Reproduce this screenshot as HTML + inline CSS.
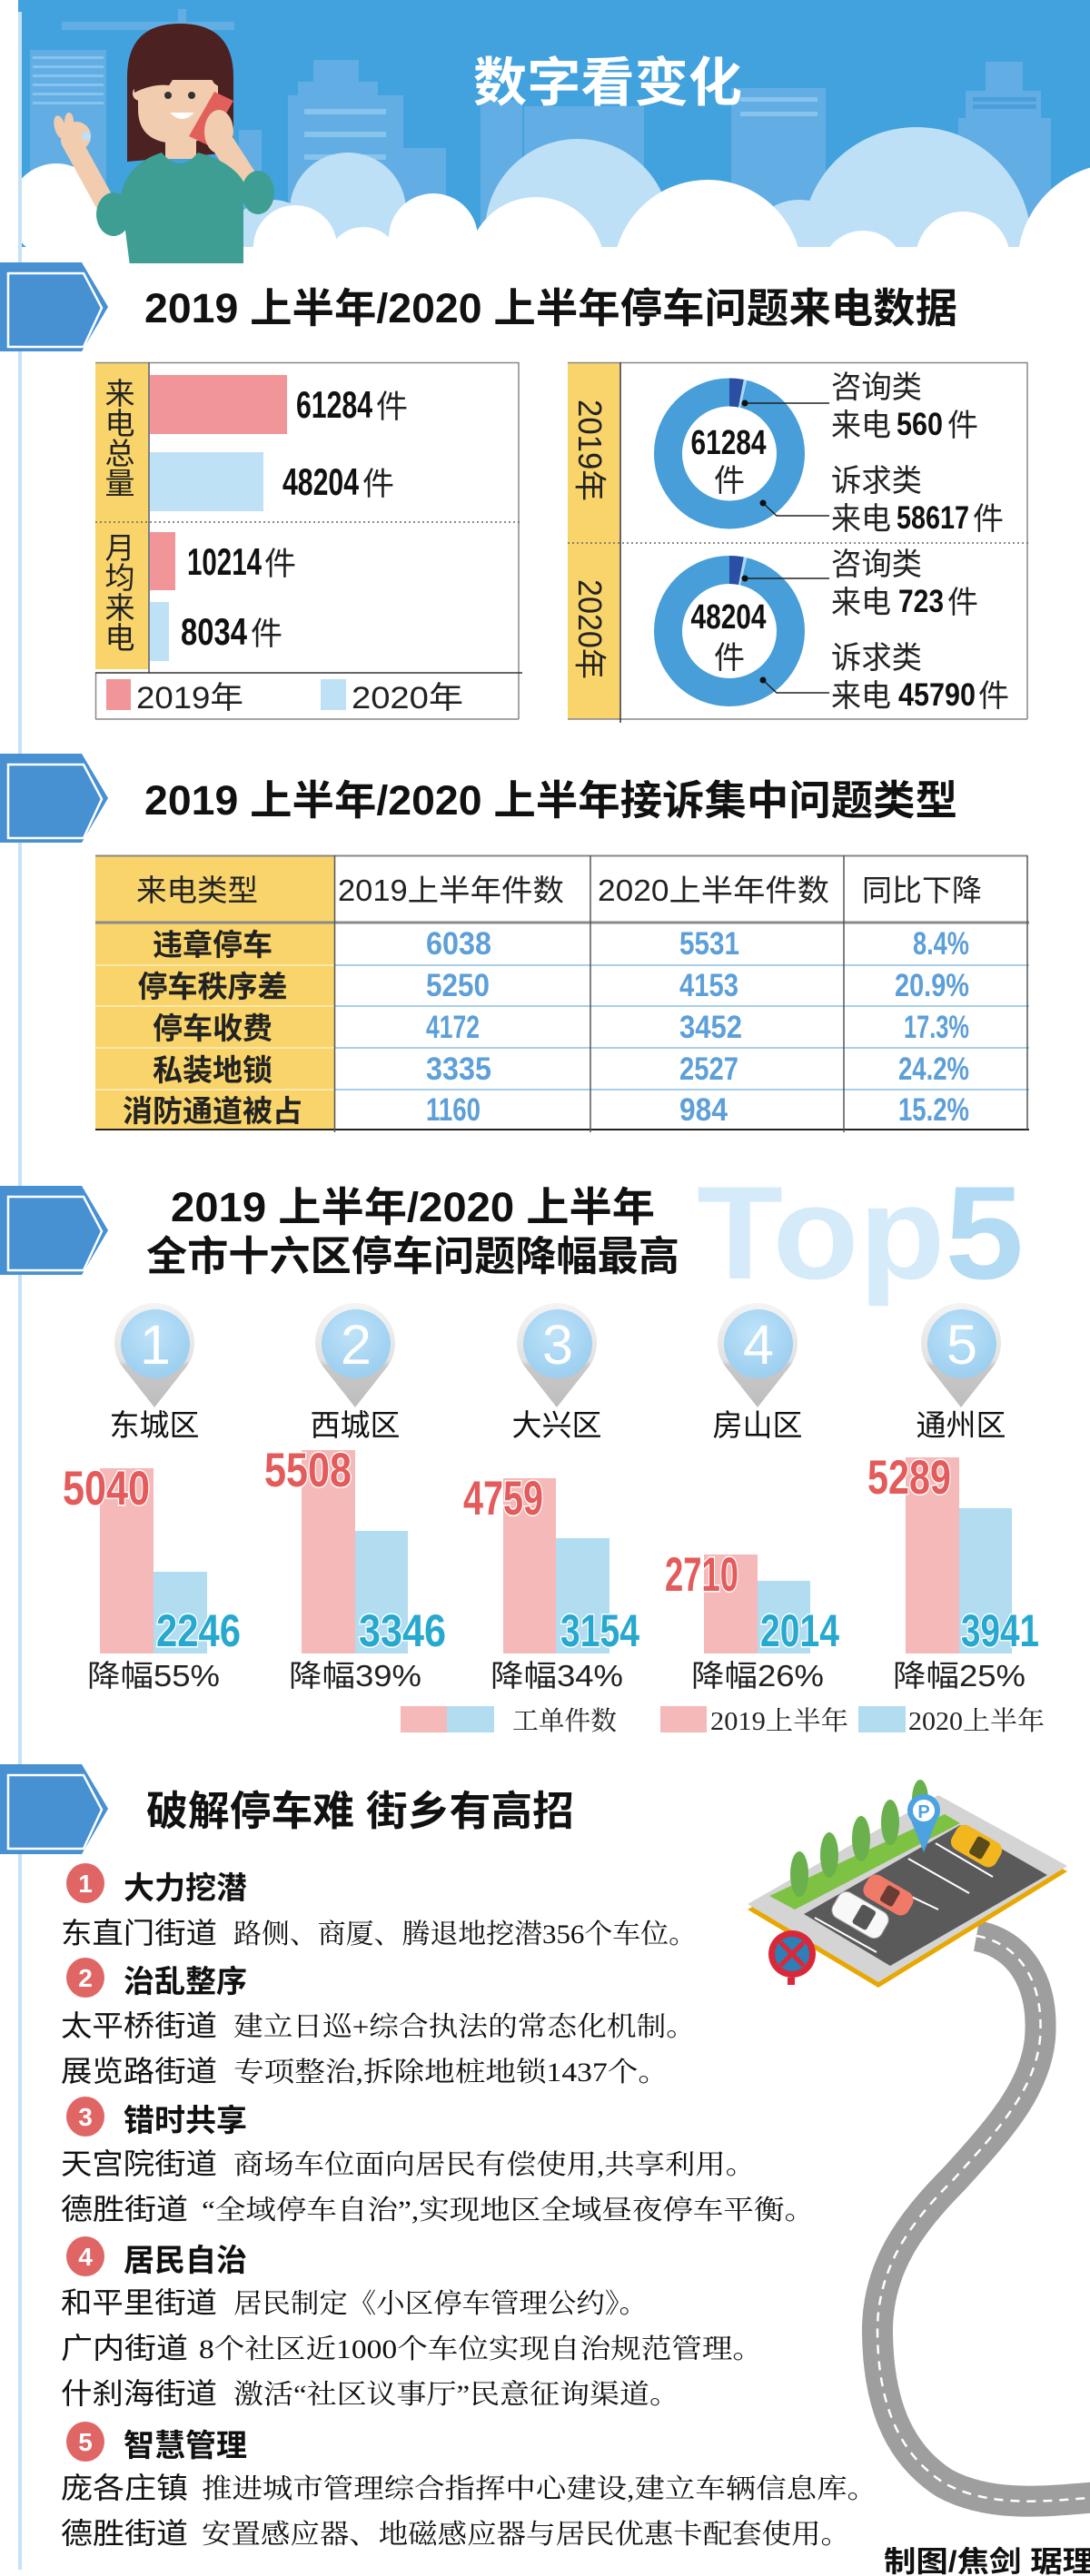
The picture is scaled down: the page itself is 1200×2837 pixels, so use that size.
<!DOCTYPE html>
<html><head><meta charset="utf-8"><title>数字看变化</title>
<style>
html,body{margin:0;padding:0;background:#fff;}
body{width:1200px;height:2837px;overflow:hidden;}
svg{display:block;}
text{font-family:"Liberation Sans","Noto Sans CJK SC",sans-serif;}
.sf{font-family:"Liberation Serif","Noto Serif CJK SC",serif;}
</style></head>
<body>
<svg xmlns="http://www.w3.org/2000/svg" width="1200" height="2837" viewBox="0 0 1200 2837">
<defs>
<linearGradient id="pinG" x1="0" y1="0" x2="0" y2="1"><stop offset="0" stop-color="#f4f4f4"/><stop offset="0.55" stop-color="#e2e2e2"/><stop offset="0.6" stop-color="#c9c9c9"/><stop offset="1" stop-color="#bdbdbd"/></linearGradient>
<radialGradient id="pinB" cx="0.45" cy="0.35" r="0.75"><stop offset="0" stop-color="#bfe3f9"/><stop offset="1" stop-color="#96cbee"/></radialGradient>
<clipPath id="hdr"><rect x="0" y="0" width="1200" height="290"/></clipPath>
</defs>

<!-- HEADER -->
<g clip-path="url(#hdr)">
<rect x="20" y="0" width="1180" height="300" fill="#42a2dd"/>
<g fill="#62aee4">
<rect x="68" y="24" width="190" height="9"/><rect x="196" y="10" width="9" height="30"/>
<rect x="33" y="55" width="84" height="240"/>
<rect x="345" y="66" width="50" height="26"/><rect x="328" y="90" width="88" height="16"/><rect x="317" y="105" width="127" height="190"/>
<rect x="263" y="143" width="25" height="150"/>
<rect x="437" y="163" width="54" height="130"/>
<rect x="529" y="110" width="46" height="180"/>
<rect x="577" y="117" width="132" height="180"/>
<rect x="805" y="97" width="104" height="200"/>
<rect x="952" y="171" width="22" height="120"/>
<rect x="1085" y="68" width="41" height="40"/><rect x="1063" y="100" width="83" height="190"/><rect x="1055" y="130" width="102" height="160"/>
</g>
<g fill="#86c4ec">
<rect x="36" y="62" width="78" height="3"/><rect x="36" y="72" width="78" height="3"/><rect x="36" y="82" width="78" height="3"/><rect x="36" y="92" width="78" height="3"/><rect x="36" y="102" width="78" height="3"/><rect x="36" y="112" width="78" height="3"/>
<rect x="335" y="120" width="90" height="6"/><rect x="335" y="145" width="90" height="6"/><rect x="335" y="170" width="90" height="6"/>
<rect x="815" y="107" width="85" height="5"/><rect x="815" y="123" width="85" height="5"/>
</g>
<g fill="#4a9fda"><rect x="1071" y="107" width="70" height="5"/><rect x="1071" y="115" width="70" height="5"/></g>
<g fill="#bde0f6">
<circle cx="383" cy="232" r="64"/><circle cx="636" cy="255" r="102"/><circle cx="1009" cy="266" r="126"/><circle cx="300" cy="270" r="50"/><circle cx="880" cy="280" r="60"/>
</g>
<g fill="#ffffff">
<circle cx="62" cy="232" r="52"/><circle cx="130" cy="265" r="45"/><circle cx="325" cy="272" r="46"/><circle cx="477" cy="262" r="49"/><circle cx="590" cy="292" r="75"/><circle cx="779" cy="302" r="104"/><circle cx="950" cy="300" r="46"/><circle cx="1060" cy="285" r="52"/><circle cx="1232" cy="292" r="112"/><circle cx="400" cy="290" r="40"/>
<rect x="0" y="272" width="1200" height="30"/>
</g>
<!-- woman -->
<path d="M140,178 L140,85 Q140,26 198,26 Q257,26 257,85 L257,168 Z" fill="#4b2121"/>
<circle cx="154" cy="103" r="8" fill="#f2ccae"/>
<path d="M152,88 L240,88 L240,120 Q240,158 196,158 Q152,158 152,120 Z" fill="#f2ccae"/>
<path d="M148,102 Q146,40 198,40 Q250,40 248,100 L236,92 L230,83 L194,82 L186,94 Q168,92 148,102 Z" fill="#4b2121"/>
<rect x="182" y="150" width="34" height="25" fill="#f2ccae"/>
<circle cx="185" cy="105" r="4" fill="#333"/><circle cx="211" cy="105" r="4" fill="#333"/>
<path d="M187,124 Q200,138 214,124 Z" fill="#fff"/>
<path d="M78,155 L122,235" stroke="#f2ccae" stroke-width="22" stroke-linecap="round"/>
<circle cx="84" cy="150" r="16" fill="#f2ccae"/>
<ellipse cx="66" cy="140" rx="6" ry="13" fill="#f2ccae" transform="rotate(-15 66 140)"/>
<ellipse cx="76" cy="134" rx="5" ry="10" fill="#f2ccae"/>
<circle cx="95" cy="150" r="5" fill="#bde0f6"/>
<path d="M240,150 L285,220" stroke="#f2ccae" stroke-width="26" stroke-linecap="round"/>
<path d="M133,215 Q140,180 178,168 Q198,192 218,168 Q255,178 268,200 L268,293 L143,293 Z" fill="#3f9e93"/>
<ellipse cx="125" cy="236" rx="19" ry="24" fill="#3f9e93"/>
<ellipse cx="284" cy="212" rx="18" ry="24" fill="#3f9e93"/>
<polygon points="236,101 257,111 229,160 208,150" fill="#e2605c"/>
<ellipse cx="241" cy="145" rx="16" ry="24" fill="#f2ccae"/>
</g>
<text x="521" y="111" font-size="58" font-weight="bold" fill="#fff" textLength="296" lengthAdjust="spacingAndGlyphs">数字看变化</text>

<!-- left line -->
<rect x="20" y="13" width="4" height="2817" fill="#c6e3f5"/>

<!-- SECTION ARROWS -->
<g>
<polygon points="0,289 90,289 119,338 90,387 0,387" fill="#4790d2"/>
<polygon points="9,301 92,301 112,339 92,382 9,382" fill="none" stroke="#fff" stroke-width="2.5"/>
<polygon points="0,830 90,830 119,879 90,928 0,928" fill="#4790d2"/>
<polygon points="9,842 92,842 112,880 92,923 9,923" fill="none" stroke="#fff" stroke-width="2.5"/>
<polygon points="0,1306 90,1306 119,1355 90,1404 0,1404" fill="#4790d2"/>
<polygon points="9,1318 92,1318 112,1356 92,1399 9,1399" fill="none" stroke="#fff" stroke-width="2.5"/>
<polygon points="0,1943 90,1943 119,1992 90,2042 0,2042" fill="#4790d2"/>
<polygon points="9,1955 92,1955 112,1993 92,2036 9,2036" fill="none" stroke="#fff" stroke-width="2.5"/>
</g>

<text x="159" y="355" font-size="45" font-weight="bold" fill="#111" textLength="895" lengthAdjust="spacingAndGlyphs">2019 上半年/2020 上半年停车问题来电数据</text>

<!-- LEFT BOX -->
<rect x="105" y="399" width="58" height="338" fill="#f8d46a"/>
<line x1="105" y1="399.5" x2="571" y2="399.5" stroke="#888" stroke-width="1.5"/>
<line x1="571" y1="399" x2="571" y2="792" stroke="#888" stroke-width="1.5"/>
<line x1="105" y1="792" x2="571" y2="792" stroke="#888" stroke-width="1.5"/>
<line x1="105.5" y1="741" x2="105.5" y2="792" stroke="#888" stroke-width="1.5"/>
<line x1="164" y1="399" x2="164" y2="741" stroke="#555" stroke-width="1.5"/>
<line x1="105" y1="741" x2="575" y2="741" stroke="#333" stroke-width="1.5"/>
<line x1="105" y1="575" x2="575" y2="575" stroke="#666" stroke-width="1.5" stroke-dasharray="2 3"/>
<g font-size="33" fill="#222" text-anchor="middle">
<text x="132" y="445">来</text><text x="132" y="478">电</text><text x="132" y="511">总</text><text x="132" y="544">量</text>
<text x="132" y="615">月</text><text x="132" y="648">均</text><text x="132" y="681">来</text><text x="132" y="714">电</text>
</g>
<rect x="165" y="413" width="151" height="65" fill="#f19599"/>
<rect x="165" y="498" width="125" height="65" fill="#bfe1f6"/>
<rect x="165" y="586" width="28" height="64" fill="#f19599"/>
<rect x="165" y="663" width="21" height="65" fill="#bfe1f6"/>
<g font-weight="bold" font-size="42" fill="#111">
<text x="326" y="460" textLength="84" lengthAdjust="spacingAndGlyphs">61284</text>
<text x="311" y="545" textLength="84" lengthAdjust="spacingAndGlyphs">48204</text>
<text x="206" y="633" textLength="82" lengthAdjust="spacingAndGlyphs">10214</text>
<text x="199" y="710" textLength="73" lengthAdjust="spacingAndGlyphs">8034</text>
</g>
<g font-size="35" fill="#222">
<text x="414" y="460">件</text><text x="399" y="545">件</text><text x="291" y="633">件</text><text x="276" y="710">件</text>
</g>
<rect x="117" y="748" width="27" height="34" fill="#f19599"/>
<rect x="353" y="748" width="28" height="34" fill="#bfe1f6"/>
<g font-size="34" fill="#222">
<text x="150" y="780" textLength="118" lengthAdjust="spacingAndGlyphs">2019年</text>
<text x="387" y="780" textLength="123" lengthAdjust="spacingAndGlyphs">2020年</text>
</g>

<!-- RIGHT BOX -->
<rect x="625" y="399" width="57" height="393" fill="#f8d46a"/>
<line x1="625" y1="399.5" x2="1131" y2="399.5" stroke="#888" stroke-width="1.5"/>
<line x1="1131" y1="399" x2="1131" y2="792" stroke="#888" stroke-width="1.5"/>
<line x1="625" y1="792" x2="1131" y2="792" stroke="#888" stroke-width="1.5"/>
<line x1="683" y1="399" x2="683" y2="796" stroke="#333" stroke-width="1.5"/>
<line x1="625" y1="598" x2="1133" y2="598" stroke="#666" stroke-width="1.5" stroke-dasharray="2 3"/>
<text transform="translate(637,440) rotate(90)" font-size="36" fill="#222" textLength="112" lengthAdjust="spacingAndGlyphs">2019年</text>
<text transform="translate(637,638) rotate(90)" font-size="36" fill="#222" textLength="110" lengthAdjust="spacingAndGlyphs">2020年</text>

<circle cx="803" cy="499.5" r="67.5" fill="none" stroke="#479ed9" stroke-width="31"/>
<path d="M803,432 A67.5,67.5 0 0 1 815.88,433.24" fill="none" stroke="#2a4fa3" stroke-width="31"/>
<path d="M815.88,433.24 A67.5,67.5 0 0 1 818.76,433.86" fill="none" stroke="#a9d8f4" stroke-width="31"/>
<circle cx="803" cy="695" r="67.5" fill="none" stroke="#479ed9" stroke-width="31"/>
<path d="M803,627.5 A67.5,67.5 0 0 1 815.88,628.74" fill="none" stroke="#2a4fa3" stroke-width="31"/>
<path d="M815.88,628.74 A67.5,67.5 0 0 1 818.76,629.36" fill="none" stroke="#a9d8f4" stroke-width="31"/>

<g font-weight="bold" font-size="38" fill="#111" text-anchor="middle">
<text x="802" y="500" textLength="83" lengthAdjust="spacingAndGlyphs">61284</text>
<text x="802" y="692" textLength="83" lengthAdjust="spacingAndGlyphs">48204</text>
</g>
<g font-size="34" fill="#222" text-anchor="middle">
<text x="803" y="541">件</text><text x="803" y="736">件</text>
</g>
<g stroke="#222" stroke-width="1.5" fill="none">
<polyline points="820,444 913,444"/><polyline points="840,554 855,568 913,568"/>
<polyline points="820,637 913,637"/><polyline points="840,749 855,763 913,763"/>
</g>
<g fill="#111"><circle cx="820" cy="444" r="3.5"/><circle cx="840" cy="554" r="3.5"/><circle cx="820" cy="637" r="3.5"/><circle cx="840" cy="749" r="3.5"/></g>
<g font-size="34" fill="#222">
<text x="915" y="438" textLength="100" lengthAdjust="spacingAndGlyphs">咨询类</text>
<text x="915" y="480" textLength="66" lengthAdjust="spacingAndGlyphs">来电</text>
<text x="1043" y="480">件</text>
<text x="915" y="541" textLength="100" lengthAdjust="spacingAndGlyphs">诉求类</text>
<text x="915" y="583" textLength="66" lengthAdjust="spacingAndGlyphs">来电</text>
<text x="1071" y="583">件</text>
<text x="915" y="633" textLength="100" lengthAdjust="spacingAndGlyphs">咨询类</text>
<text x="915" y="675" textLength="66" lengthAdjust="spacingAndGlyphs">来电</text>
<text x="1043" y="675">件</text>
<text x="915" y="736" textLength="100" lengthAdjust="spacingAndGlyphs">诉求类</text>
<text x="915" y="778" textLength="66" lengthAdjust="spacingAndGlyphs">来电</text>
<text x="1077" y="778">件</text>
</g>
<g font-weight="bold" font-size="35" fill="#111">
<text x="987" y="479" textLength="51" lengthAdjust="spacingAndGlyphs">560</text>
<text x="987" y="582" textLength="80" lengthAdjust="spacingAndGlyphs">58617</text>
<text x="989" y="674" textLength="50" lengthAdjust="spacingAndGlyphs">723</text>
<text x="989" y="777" textLength="85" lengthAdjust="spacingAndGlyphs">45790</text>
</g>

<!-- SECTION 2 -->
<text x="159" y="897" font-size="45" font-weight="bold" fill="#111" textLength="895" lengthAdjust="spacingAndGlyphs">2019 上半年/2020 上半年接诉集中问题类型</text>
<rect x="105" y="942" width="263" height="302" fill="#f8d46a"/>
<g stroke="#fbe7ad" stroke-width="2"><line x1="105" y1="1063" x2="368" y2="1063"/><line x1="105" y1="1108" x2="368" y2="1108"/><line x1="105" y1="1154" x2="368" y2="1154"/><line x1="105" y1="1200" x2="368" y2="1200"/></g>
<g stroke="#a9cfe9" stroke-width="2"><line x1="368" y1="1063" x2="1133" y2="1063"/><line x1="368" y1="1108" x2="1133" y2="1108"/><line x1="368" y1="1154" x2="1133" y2="1154"/><line x1="368" y1="1200" x2="1133" y2="1200"/></g>
<line x1="105" y1="942.5" x2="1131" y2="942.5" stroke="#888" stroke-width="2"/>
<line x1="105" y1="1016" x2="1133" y2="1016" stroke="#8a8a8a" stroke-width="3"/>
<line x1="105" y1="1244" x2="1133" y2="1244" stroke="#222" stroke-width="2"/>
<g stroke="#555" stroke-width="1.5"><line x1="368.5" y1="942" x2="368.5" y2="1247"/><line x1="650" y1="942" x2="650" y2="1247"/><line x1="929" y1="942" x2="929" y2="1247"/><line x1="1131" y1="942" x2="1131" y2="1244"/></g>
<g font-size="33" fill="#222">
<text x="150" y="992" textLength="134" lengthAdjust="spacingAndGlyphs">来电类型</text>
<text x="372" y="992" textLength="249" lengthAdjust="spacingAndGlyphs">2019上半年件数</text>
<text x="658" y="992" textLength="255" lengthAdjust="spacingAndGlyphs">2020上半年件数</text>
<text x="949" y="992" textLength="132" lengthAdjust="spacingAndGlyphs">同比下降</text>
</g>
<g font-size="33" font-weight="bold" fill="#222" text-anchor="middle">
<text x="234" y="1052">违章停车</text>
<text x="234" y="1098">停车秩序差</text>
<text x="234" y="1144">停车收费</text>
<text x="234" y="1190">私装地锁</text>
<text x="234" y="1235">消防通道被占</text>
</g>
<g font-size="35" font-weight="bold" fill="#5d9fd8">
<text x="469" y="1051" textLength="72" lengthAdjust="spacingAndGlyphs">6038</text>
<text x="469" y="1097" textLength="70" lengthAdjust="spacingAndGlyphs">5250</text>
<text x="469" y="1143" textLength="59" lengthAdjust="spacingAndGlyphs">4172</text>
<text x="469" y="1189" textLength="72" lengthAdjust="spacingAndGlyphs">3335</text>
<text x="469" y="1234" textLength="60" lengthAdjust="spacingAndGlyphs">1160</text>
<text x="748" y="1051" textLength="66" lengthAdjust="spacingAndGlyphs">5531</text>
<text x="748" y="1097" textLength="65" lengthAdjust="spacingAndGlyphs">4153</text>
<text x="748" y="1143" textLength="69" lengthAdjust="spacingAndGlyphs">3452</text>
<text x="748" y="1189" textLength="65" lengthAdjust="spacingAndGlyphs">2527</text>
<text x="748" y="1234" textLength="53" lengthAdjust="spacingAndGlyphs">984</text>
<text x="1005" y="1051" textLength="62" lengthAdjust="spacingAndGlyphs">8.4%</text>
<text x="985" y="1097" textLength="82" lengthAdjust="spacingAndGlyphs">20.9%</text>
<text x="995" y="1143" textLength="72" lengthAdjust="spacingAndGlyphs">17.3%</text>
<text x="989" y="1189" textLength="78" lengthAdjust="spacingAndGlyphs">24.2%</text>
<text x="989" y="1234" textLength="78" lengthAdjust="spacingAndGlyphs">15.2%</text>
</g>

<!-- SECTION 3 -->
<text x="767" y="1408" font-size="146" font-weight="bold" textLength="360" lengthAdjust="spacingAndGlyphs"><tspan fill="#d6ebf9">Top</tspan><tspan fill="#b3dbf3">5</tspan></text>
<text x="188" y="1345" font-size="45" font-weight="bold" fill="#111" textLength="533" lengthAdjust="spacingAndGlyphs">2019 上半年/2020 上半年</text>
<text x="161" y="1399" font-size="45" font-weight="bold" fill="#111" textLength="587" lengthAdjust="spacingAndGlyphs">全市十六区停车问题降幅最高</text>

<g id="pins">
<g transform="translate(170,0)"><path d="M-34.5,1506.3 A44,44 0 1 1 34.5,1506.3 L0,1550 Z" fill="url(#pinG)"/><circle cx="1" cy="1480" r="38" fill="url(#pinB)"/><text x="1" y="1502" font-size="61" fill="#fff" text-anchor="middle">1</text></g>
<g transform="translate(391,0)"><path d="M-34.5,1506.3 A44,44 0 1 1 34.5,1506.3 L0,1550 Z" fill="url(#pinG)"/><circle cx="1" cy="1480" r="38" fill="url(#pinB)"/><text x="1" y="1502" font-size="61" fill="#fff" text-anchor="middle">2</text></g>
<g transform="translate(613,0)"><path d="M-34.5,1506.3 A44,44 0 1 1 34.5,1506.3 L0,1550 Z" fill="url(#pinG)"/><circle cx="1" cy="1480" r="38" fill="url(#pinB)"/><text x="1" y="1502" font-size="61" fill="#fff" text-anchor="middle">3</text></g>
<g transform="translate(834,0)"><path d="M-34.5,1506.3 A44,44 0 1 1 34.5,1506.3 L0,1550 Z" fill="url(#pinG)"/><circle cx="1" cy="1480" r="38" fill="url(#pinB)"/><text x="1" y="1502" font-size="61" fill="#fff" text-anchor="middle">4</text></g>
<g transform="translate(1058,0)"><path d="M-34.5,1506.3 A44,44 0 1 1 34.5,1506.3 L0,1550 Z" fill="url(#pinG)"/><circle cx="1" cy="1480" r="38" fill="url(#pinB)"/><text x="1" y="1502" font-size="61" fill="#fff" text-anchor="middle">5</text></g>
</g>
<g font-size="33" fill="#111" text-anchor="middle">
<text x="170" y="1581">东城区</text><text x="391" y="1581">西城区</text><text x="613" y="1581">大兴区</text><text x="834" y="1581">房山区</text><text x="1058" y="1581">通州区</text>
</g>
<g fill="#f5b9b9">
<rect x="110" y="1617" width="59" height="204"/><rect x="332" y="1597" width="59" height="224"/><rect x="554" y="1628" width="58" height="193"/><rect x="775" y="1712" width="59" height="109"/><rect x="997" y="1605" width="59" height="216"/>
</g>
<g fill="#b2dcef">
<rect x="169" y="1731" width="59" height="90"/><rect x="391" y="1686" width="58" height="135"/><rect x="612" y="1694" width="59" height="127"/><rect x="834" y="1741" width="58" height="80"/><rect x="1056" y="1661" width="58" height="160"/>
</g>
<g font-size="53" font-weight="bold" fill="#e35b5b" stroke="#fff" stroke-width="3" paint-order="stroke">
<text x="69" y="1657" textLength="96" lengthAdjust="spacingAndGlyphs">5040</text>
<text x="291" y="1637" textLength="96" lengthAdjust="spacingAndGlyphs">5508</text>
<text x="510" y="1668" textLength="88" lengthAdjust="spacingAndGlyphs">4759</text>
<text x="732" y="1752" textLength="81" lengthAdjust="spacingAndGlyphs">2710</text>
<text x="955" y="1645" textLength="92" lengthAdjust="spacingAndGlyphs">5289</text>
</g>
<g font-size="50" font-weight="bold" fill="#27a9cf" stroke="#fff" stroke-width="3" paint-order="stroke">
<text x="172" y="1813" textLength="93" lengthAdjust="spacingAndGlyphs">2246</text>
<text x="395" y="1813" textLength="96" lengthAdjust="spacingAndGlyphs">3346</text>
<text x="617" y="1813" textLength="87" lengthAdjust="spacingAndGlyphs">3154</text>
<text x="837" y="1813" textLength="87" lengthAdjust="spacingAndGlyphs">2014</text>
<text x="1058" y="1813" textLength="86" lengthAdjust="spacingAndGlyphs">3941</text>
</g>
<g font-size="33" fill="#222" text-anchor="middle">
<text x="169" y="1857" textLength="146" lengthAdjust="spacingAndGlyphs">降幅55%</text>
<text x="391" y="1857" textLength="146" lengthAdjust="spacingAndGlyphs">降幅39%</text>
<text x="613" y="1857" textLength="146" lengthAdjust="spacingAndGlyphs">降幅34%</text>
<text x="834" y="1857" textLength="146" lengthAdjust="spacingAndGlyphs">降幅26%</text>
<text x="1056" y="1857" textLength="146" lengthAdjust="spacingAndGlyphs">降幅25%</text>
</g>
<rect x="441" y="1879" width="51" height="29" fill="#f5b9b9"/><rect x="492" y="1879" width="52" height="29" fill="#b2dcef"/>
<rect x="727" y="1879" width="51" height="29" fill="#f5b9b9"/><rect x="945" y="1879" width="52" height="29" fill="#b2dcef"/>
<g class="sf" font-size="29" fill="#222">
<text class="sf" x="564" y="1905" textLength="115" lengthAdjust="spacingAndGlyphs">工单件数</text>
<text class="sf" x="782" y="1905" textLength="152" lengthAdjust="spacingAndGlyphs">2019上半年</text>
<text class="sf" x="1000" y="1905" textLength="150" lengthAdjust="spacingAndGlyphs">2020上半年</text>
</g>

<!-- SECTION 4 -->
<text x="161" y="2010" font-size="45" font-weight="bold" fill="#111" textLength="471" lengthAdjust="spacingAndGlyphs">破解停车难 街乡有高招</text>

<!-- road -->
<path d="M1075,2132 C1120,2140 1150,2180 1145,2245 C1140,2300 1100,2345 1050,2400 C1000,2450 965,2500 966,2570 C967,2640 985,2700 1040,2735 C1090,2762 1150,2755 1210,2750" fill="none" stroke="#9e9e9e" stroke-width="34"/>
<path d="M1075,2132 C1120,2140 1150,2180 1145,2245 C1140,2300 1100,2345 1050,2400 C1000,2450 965,2500 966,2570 C967,2640 985,2700 1040,2735 C1090,2762 1150,2755 1210,2750" fill="none" stroke="#fff" stroke-width="2.5" stroke-dasharray="10 8"/>
<!-- parking platform -->
<polygon points="823,2103 1033,1983 1175,2061 967,2189" fill="#e8a800"/>
<polygon points="823,2097 1033,1977 1175,2055 967,2183" fill="#d4d4d4"/>
<polygon points="847,2088 1040,1998 1057,2008 875,2103" fill="#7dc242"/>
<polygon points="885,2108 1057,2010 1153,2065 980,2165" fill="#5a5a5a"/>
<g stroke="#fff" stroke-width="2">
<line x1="897" y1="2112" x2="965" y2="2150"/><line x1="968" y1="2072" x2="1033" y2="2103"/><line x1="1000" y1="2047" x2="1067" y2="2085"/><line x1="1030" y1="2030" x2="1093" y2="2067"/>
</g>
<g fill="#6ab04c">
<ellipse cx="880" cy="2064" rx="10" ry="25"/><ellipse cx="913" cy="2043" rx="10" ry="25"/><ellipse cx="948" cy="2025" rx="10" ry="25"/><ellipse cx="980" cy="2007" rx="10" ry="25"/><ellipse cx="1013" cy="1982" rx="9" ry="22"/>
</g>
<g transform="translate(978,2087) rotate(30)"><rect x="-28" y="-14" width="56" height="28" rx="10" fill="#ef7a68"/><rect x="-6" y="-10" width="16" height="20" rx="3" fill="#6b3b35"/></g>
<g transform="translate(947,2109) rotate(30)"><rect x="-31" y="-16" width="62" height="32" rx="10" fill="#f8f8f8" stroke="#999" stroke-width="1"/><rect x="-4" y="-12" width="18" height="24" rx="3" fill="#555"/></g>
<g transform="translate(1075,2033) rotate(30)"><rect x="-28" y="-15" width="56" height="30" rx="10" fill="#f2b71f"/><rect x="-4" y="-11" width="16" height="22" rx="3" fill="#5b4a1a"/></g>
<path d="M1003,2005 A18,18 0 1 1 1031,2005 L1017,2040 Z" fill="#4da3df"/>
<circle cx="1017" cy="1994" r="12" fill="#fff"/>
<text x="1017" y="2002" font-size="20" font-weight="bold" fill="#4da3df" text-anchor="middle">P</text>
<rect x="867" y="2178" width="8" height="8" fill="#d9283a"/>
<circle cx="872" cy="2152" r="26" fill="#d9283a"/>
<circle cx="872" cy="2152" r="19" fill="#2d7fb5"/>
<g stroke="#d9283a" stroke-width="5"><line x1="859" y1="2139" x2="885" y2="2165"/><line x1="885" y1="2139" x2="859" y2="2165"/></g>

<!-- items -->
<g fill="#e06666"><ellipse cx="94" cy="2074" rx="21" ry="22"/><ellipse cx="94" cy="2178" rx="21" ry="22"/><ellipse cx="94" cy="2331" rx="21" ry="22"/><ellipse cx="94" cy="2485" rx="21" ry="22"/><ellipse cx="94" cy="2689" rx="21" ry="22"/></g>
<g font-size="28" font-weight="bold" fill="#fff" text-anchor="middle">
<text x="94" y="2084">1</text><text x="94" y="2188">2</text><text x="94" y="2341">3</text><text x="94" y="2495">4</text><text x="94" y="2699">5</text>
</g>
<g font-size="34" font-weight="bold" fill="#111">
<text x="136" y="2091" textLength="136" lengthAdjust="spacingAndGlyphs">大力挖潜</text>
<text x="136" y="2194" textLength="136" lengthAdjust="spacingAndGlyphs">治乱整序</text>
<text x="136" y="2347" textLength="136" lengthAdjust="spacingAndGlyphs">错时共享</text>
<text x="136" y="2501" textLength="136" lengthAdjust="spacingAndGlyphs">居民自治</text>
<text x="136" y="2705" textLength="136" lengthAdjust="spacingAndGlyphs">智慧管理</text>
</g>
<g font-size="32" fill="#111">
<text x="67" y="2140" textLength="172" lengthAdjust="spacingAndGlyphs">东直门街道</text>
<text x="67" y="2242" textLength="172" lengthAdjust="spacingAndGlyphs">太平桥街道</text>
<text x="67" y="2292" textLength="172" lengthAdjust="spacingAndGlyphs">展览路街道</text>
<text x="67" y="2394" textLength="172" lengthAdjust="spacingAndGlyphs">天宫院街道</text>
<text x="67" y="2444" textLength="140" lengthAdjust="spacingAndGlyphs">德胜街道</text>
<text x="67" y="2547" textLength="172" lengthAdjust="spacingAndGlyphs">和平里街道</text>
<text x="67" y="2597" textLength="140" lengthAdjust="spacingAndGlyphs">广内街道</text>
<text x="67" y="2647" textLength="172" lengthAdjust="spacingAndGlyphs">什刹海街道</text>
<text x="67" y="2751" textLength="140" lengthAdjust="spacingAndGlyphs">庞各庄镇</text>
<text x="67" y="2801" textLength="140" lengthAdjust="spacingAndGlyphs">德胜街道</text>
</g>
<g font-size="30" fill="#111">
<text class="sf" x="257" y="2140" textLength="510" lengthAdjust="spacingAndGlyphs">路侧、商厦、腾退地挖潜356个车位。</text>
<text class="sf" x="257" y="2242" textLength="509" lengthAdjust="spacingAndGlyphs">建立日巡+综合执法的常态化机制。</text>
<text class="sf" x="257" y="2292" textLength="479" lengthAdjust="spacingAndGlyphs">专项整治,拆除地桩地锁1437个。</text>
<text class="sf" x="257" y="2394" textLength="575" lengthAdjust="spacingAndGlyphs">商场车位面向居民有偿使用,共享利用。</text>
<text class="sf" x="222" y="2444" textLength="675" lengthAdjust="spacingAndGlyphs">“全域停车自治”,实现地区全域昼夜停车平衡。</text>
<text class="sf" x="257" y="2547" textLength="456" lengthAdjust="spacingAndGlyphs">居民制定《小区停车管理公约》。</text>
<text class="sf" x="219" y="2597" textLength="621" lengthAdjust="spacingAndGlyphs">8个社区近1000个车位实现自治规范管理。</text>
<text class="sf" x="257" y="2647" textLength="491" lengthAdjust="spacingAndGlyphs">激活“社区议事厅”民意征询渠道。</text>
<text class="sf" x="222" y="2751" textLength="744" lengthAdjust="spacingAndGlyphs">推进城市管理综合指挥中心建设,建立车辆信息库。</text>
<text class="sf" x="222" y="2801" textLength="714" lengthAdjust="spacingAndGlyphs">安置感应器、地磁感应器与居民优惠卡配套使用。</text>
</g>
<text x="973" y="2832" font-size="32" font-weight="bold" fill="#111" textLength="232" lengthAdjust="spacingAndGlyphs">制图/焦剑 琚理</text>
</svg>
</body></html>
